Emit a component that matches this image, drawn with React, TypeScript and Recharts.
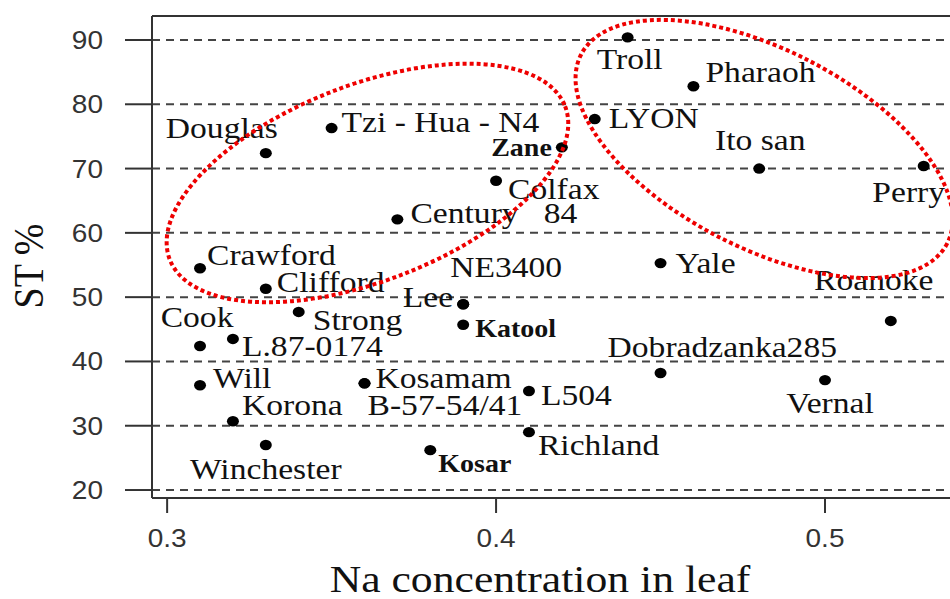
import { ScatterChart, Scatter, XAxis, YAxis, CartesianGrid, ReferenceLine, ReferenceDot } from 'recharts';

// cultivars, leaf Na concentration and ST %
const cultivars = [
    'Douglas', 'Tzi - Hua - N4', 'Zane', 'Colfax', 'Century   84', 'Crawford', 'Clifford',
    'NE3400', 'Lee', 'Strong', 'Katool', 'Cook', 'L.87-0174', 'Will', 'Kosamam',
    'B-57-54/41', 'Korona', 'Winchester', 'Kosar', 'L504', 'Richland', 'Troll',
    'Pharaoh', 'LYON', 'Ito san', 'Perry', 'Yale', 'Roanoke', 'Dobradzanka285', 'Vernal',
];
const naLeaf = [
    0.33, 0.35, 0.42, 0.40, 0.37, 0.31, 0.33,
    0.39, 0.39, 0.34, 0.39, 0.31, 0.32, 0.31, 0.36,
    0.36, 0.32, 0.33, 0.38, 0.41, 0.41, 0.44,
    0.46, 0.43, 0.48, 0.53, 0.45, 0.52, 0.45, 0.50,
];
const stPercent = [
    72.4, 76.3, 73.3, 68.1, 62.1, 54.5, 51.3,
    48.9, 48.9, 47.7, 45.7, 42.4, 43.5, 36.3, 36.6,
    36.6, 30.7, 27.0, 26.2, 35.4, 29.0, 90.4,
    82.8, 77.7, 70.0, 70.4, 55.3, 46.3, 38.2, 37.1,
];
const boldNames = ['Zane', 'Katool', 'Kosar'];

const xTicks = [0.3, 0.4, 0.5];
const yTicks = [20, 30, 40, 50, 60, 70, 80, 90];
const X_DOMAIN = [0.2954, 0.538];
const Y_DOMAIN = [18.76, 93.73];

// ellipse centres in data units
const groups = [
    { x: 0.3609, y: 67.76, rx: 212, ry: 98, angle: -21.2 },
    { x: 0.4815, y: 73.05, rx: 206, ry: 99, angle: 27.3 },
];

// label offsets from the dot: dx, dy (baseline), anchor
const LABEL_POS: { [k: string]: [number, number, string] } = {
    Douglas: [-100, -15, 'start'],
    'Tzi - Hua - N4': [10, 4, 'start'],
    Zane: [-10, 9, 'end'],
    Colfax: [12, 18, 'start'],
    'Century   84': [13, 4, 'start'],
    Crawford: [7, -3, 'start'],
    Clifford: [11, 3, 'start'],
    NE3400: [-13, -27, 'start'],
    Lee: [-10, 3, 'end'],
    Strong: [14, 18, 'start'],
    Katool: [12, 12, 'start'],
    Cook: [-3, -19, 'middle'],
    'L.87-0174': [9, 17, 'start'],
    Will: [13, 3, 'start'],
    Kosamam: [11, 5, 'start'],
    'B-57-54/41': [3, 32, 'start'],
    Korona: [9, -6, 'start'],
    Winchester: [0, 34, 'middle'],
    Kosar: [8, 22, 'start'],
    L504: [12, 14, 'start'],
    Richland: [9, 23, 'start'],
    Troll: [2, 32, 'middle'],
    Pharaoh: [12, -4, 'start'],
    LYON: [14, 9, 'start'],
    'Ito san': [1, -19, 'middle'],
    Perry: [-15, 36, 'middle'],
    Yale: [15, 10, 'start'],
    Roanoke: [-17, -31, 'middle'],
    Dobradzanka285: [-53, -16, 'start'],
    Vernal: [5, 33, 'middle'],
};

const SX = 1.12; // the picture is a bit wider than tall
const SERIF = '"Liberation Serif", "Times New Roman", serif';
const SANS = '"Liberation Sans", Arial, sans-serif';

const points = cultivars.map((name, i) => ({ name, x: naLeaf[i], y: stPercent[i] }));

function PointShape(props: any) {
    const { cx, cy, payload } = props;
    const pos = LABEL_POS[payload.name] || [8, 5, 'start'];
    const bold = boldNames.includes(payload.name);
    return (
        <g>
            <ellipse cx={cx} cy={cy} rx={6} ry={5.2} fill="#000" />
            <text
                transform={`translate(${cx + pos[0]},${cy + pos[1]}) scale(${SX},1)`}
                textAnchor={pos[2] as any}
                fontFamily={SERIF}
                fontSize={bold ? 25 : 30}
                fontWeight={bold ? 'bold' : 'normal'}
                fill="#111"
                style={{ whiteSpace: 'pre' }}
            >
                {payload.name}
            </text>
        </g>
    );
}

function YTick(props: any) {
    const { x, y, payload } = props;
    return (
        <text
            transform={`translate(${x},${y + 9}) scale(${SX},1)`}
            textAnchor="end"
            fontFamily={SANS}
            fontSize={25}
            fill="#333"
        >
            {payload.value}
        </text>
    );
}

function XTick(props: any) {
    const { x, y, payload } = props;
    return (
        <text
            transform={`translate(${x},${y + 32}) scale(${SX},1)`}
            textAnchor="middle"
            fontFamily={SANS}
            fontSize={25}
            fill="#333"
        >
            {payload.value.toFixed(1)}
        </text>
    );
}

export default function App() {
    return (
        <div style={{ position: 'absolute', left: 0, top: 0, background: '#fff' }}>
            <ScatterChart width={950} height={599} margin={{ top: 16, right: 0, left: 0, bottom: 0 }}>
                <CartesianGrid vertical={false} stroke="#444" strokeWidth={2} strokeDasharray="8 6" />
                <XAxis
                    type="number"
                    dataKey="x"
                    domain={X_DOMAIN}
                    ticks={xTicks}
                    allowDataOverflow
                    height={101}
                    tickSize={15}
                    tickMargin={2}
                    axisLine={{ stroke: '#333', strokeWidth: 2 }}
                    tickLine={{ stroke: '#333', strokeWidth: 2 }}
                    tick={<XTick />}
                    label={{
                        content: () => (
                            <text
                                transform={`translate(540,592) scale(${SX},1)`}
                                textAnchor="middle"
                                fontFamily={SERIF}
                                fontSize={39}
                                fill="#111"
                            >
                                Na concentration in leaf
                            </text>
                        ),
                    }}
                />
                <YAxis
                    type="number"
                    dataKey="y"
                    domain={Y_DOMAIN}
                    ticks={yTicks}
                    allowDataOverflow
                    width={152}
                    tickSize={27}
                    tickMargin={22}
                    axisLine={{ stroke: '#333', strokeWidth: 2 }}
                    tickLine={{ stroke: '#333', strokeWidth: 2 }}
                    tick={<YTick />}
                    label={{
                        content: () => (
                            <text
                                transform={`translate(43,266) scale(${SX},1) rotate(-90)`}
                                textAnchor="middle"
                                fontFamily={SERIF}
                                fontSize={38}
                                fill="#111"
                            >
                                ST %
                            </text>
                        ),
                    }}
                />
                <ReferenceLine y={Y_DOMAIN[1]} stroke="#333" strokeWidth={2} />
                <Scatter data={points} shape={<PointShape />} isAnimationActive={false} />
                {groups.map((g, i) => (
                    <ReferenceDot
                        key={i}
                        x={g.x}
                        y={g.y}
                        shape={(p: any) => (
                            <ellipse
                                cx={p.cx}
                                cy={p.cy}
                                rx={g.rx}
                                ry={g.ry}
                                transform={`rotate(${g.angle} ${p.cx} ${p.cy})`}
                                fill="none"
                                stroke="#ee0000"
                                strokeWidth={4}
                                strokeDasharray="4 3"
                            />
                        )}
                    />
                ))}
            </ScatterChart>
        </div>
    );
}
